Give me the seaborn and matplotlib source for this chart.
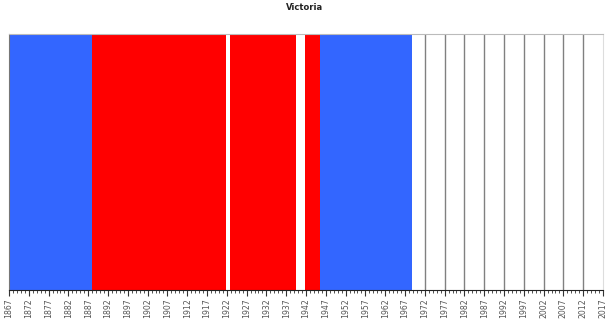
import matplotlib
matplotlib.use("Agg")
import matplotlib.pyplot as plt
import seaborn as sns
import numpy as np
import pandas as pd

# Periods (start year, end year, party colour)
starts = [1867.0, 1888.0, 1922.8, 1941.7, 1945.5]
ends = [1888.0, 1921.7, 1939.6, 1945.5, 1968.7]
parties = ["blue", "red", "red", "red", "blue"]
palette = {"blue": "#3366FF", "red": "#FF0000"}
title = "Victoria"
tick_years = list(range(1867, 2018, 5))

df = pd.DataFrame({"start": starts, "end": ends, "party": parties})
df["width"] = df["end"] - df["start"]

sns.set_style("white")
plt.rcParams["font.family"] = ["DejaVu Sans"]

fig = plt.figure(figsize=(6.10, 3.19), dpi=100)
ax = fig.add_axes([9 / 610, 1 - 290 / 319, 594 / 610, 256 / 319])

# vertical grid lines at major ticks in the empty region
last_end = df["end"].max()
for yr in tick_years:
    if last_end < yr < 2017:
        ax.axvline(yr, color="#808080", lw=1.0, zorder=0)

sns.despine(ax=ax, right=True, top=False, left=False, bottom=False)
ax.bar(df["start"], 1, width=df["width"], align="edge",
       color=[palette[p] for p in df["party"]], linewidth=0, zorder=2)

ax.set_xlim(1867, 2017)
ax.set_ylim(0, 1)
ax.set_yticks([])
ax.set_xticks(tick_years)
ax.set_xticklabels([str(y) for y in tick_years], rotation=90, fontsize=5.6, color="#555555")
ax.set_xticks(np.arange(1867, 2018, 1), minor=True)
ax.tick_params(axis="x", which="major", length=4, width=0.8, color="#333333", pad=2, direction="out")
ax.tick_params(axis="x", which="minor", length=2, width=0.6, color="#333333", direction="out")
ax.tick_params(axis="x", bottom=True, which="both")

ax.spines["left"].set_color("#777777")
ax.spines["left"].set_linewidth(0.8)
ax.spines["top"].set_color("#bbbbbb")
ax.spines["top"].set_linewidth(0.8)
ax.spines["right"].set_visible(True)
ax.spines["right"].set_color("#dddddd")
ax.spines["right"].set_linewidth(0.8)
ax.spines["bottom"].set_color("#222222")
ax.spines["bottom"].set_linewidth(0.8)

fig.text(0.5, 1 - 7 / 319, title, ha="center", va="center", fontsize=6, fontweight="bold", color="#222222")

fig.savefig("out.png", dpi=100)
